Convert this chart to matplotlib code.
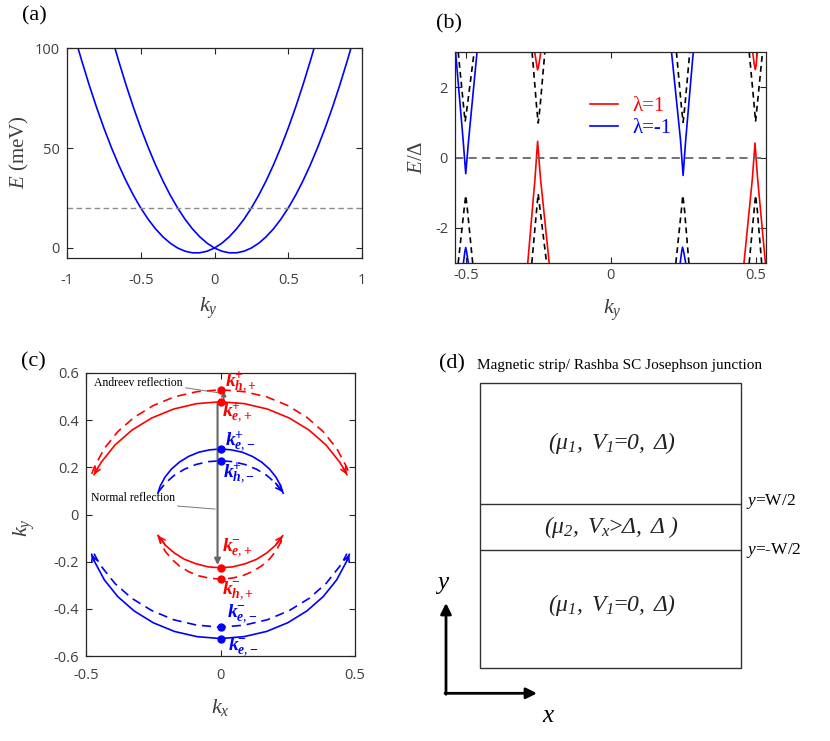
import matplotlib
matplotlib.use('Agg')
import matplotlib as mpl
import matplotlib.pyplot as plt
from matplotlib.patches import Rectangle

# ---------------- data ----------------
# (a) two Rashba bands, E (meV) vs k_y
ky_band1 = [-0.925, -0.90, -0.85, -0.80, -0.75, -0.70, -0.65, -0.60, -0.55, -0.50, -0.45, -0.40,
            -0.35, -0.30, -0.25, -0.20, -0.15, -0.10, -0.05, 0.0, 0.05, 0.10, 0.15, 0.20, 0.25,
            0.30, 0.35, 0.40, 0.45, 0.50, 0.55, 0.60, 0.65, 0.675]
E_band1 = [99.9, 93.6, 81.6, 70.4, 60.0, 50.4, 41.6, 33.6, 26.4, 20.0, 14.4, 9.6,
           5.6, 2.4, 0.0, -1.6, -2.4, -2.4, -1.6, 0.0, 2.4, 5.6, 9.6, 14.4, 20.0,
           26.4, 33.6, 41.6, 50.4, 60.0, 70.4, 81.6, 93.6, 99.9]
ky_band2 = [0.925, 0.90, 0.85, 0.80, 0.75, 0.70, 0.65, 0.60, 0.55, 0.50, 0.45, 0.40,
            0.35, 0.30, 0.25, 0.20, 0.15, 0.10, 0.05, 0.0, -0.05, -0.10, -0.15, -0.20, -0.25,
            -0.30, -0.35, -0.40, -0.45, -0.50, -0.55, -0.60, -0.65, -0.675]
E_band2 = E_band1
mu_a = 20

# (b) BdG spectrum E/Delta vs k_y
red_k = [[-0.287, -0.262, -0.253, -0.243, -0.213],
         [-0.263, -0.256, -0.253, -0.249, -0.242],
         [0.459, 0.488, 0.497, 0.506, 0.533],
         [0.489, 0.495, 0.498, 0.501, 0.505]]
red_E = [[-3.0, -0.6, 0.46, -0.6, -3.0],
         [3.0, 2.62, 2.49, 2.62, 3.0],
         [-3.0, -0.6, 0.41, -0.6, -3.0],
         [3.0, 2.62, 2.50, 2.62, 3.0]]
blue_k = [[-0.536, -0.510, -0.501, -0.491, -0.462],
          [-0.509, -0.504, -0.501, -0.498, -0.492],
          [0.209, 0.240, 0.249, 0.258, 0.284],
          [0.239, 0.244, 0.247, 0.251, 0.258]]
blue_E = [[3.0, 0.5, -0.46, 0.5, 3.0],
          [-3.0, -2.68, -2.56, -2.68, -3.0],
          [3.0, 0.5, -0.51, 0.5, 3.0],
          [-3.0, -2.68, -2.55, -2.68, -3.0]]
black_k = [[-0.527, -0.509, -0.503, -0.495, -0.472],
           [-0.527, -0.507, -0.501, -0.495, -0.477],
           [-0.272, -0.256, -0.251, -0.245, -0.228],
           [-0.273, -0.256, -0.251, -0.245, -0.222],
           [0.226, 0.243, 0.249, 0.255, 0.272],
           [0.224, 0.243, 0.248, 0.254, 0.269],
           [0.477, 0.494, 0.499, 0.505, 0.523],
           [0.477, 0.494, 0.499, 0.505, 0.520]]
black_E = [[3.0, 1.5, 1.02, 1.5, 3.0],
           [-3.0, -1.5, -1.08, -1.5, -3.0],
           [3.0, 1.4, 0.98, 1.4, 3.0],
           [-3.0, -1.45, -1.03, -1.45, -3.0],
           [3.0, 1.45, 1.0, 1.45, 3.0],
           [-3.0, -1.5, -1.08, -1.5, -3.0],
           [3.0, 1.5, 1.02, 1.5, 3.0],
           [-3.0, -1.5, -1.08, -1.5, -3.0]]
legend_labels = ['\u03bb=1', '\u03bb=-1']

# (c) Fermi contours (k_x, k_y)
red_sol_up_kx = [-0.470, -0.457, -0.443, -0.392, -0.329, -0.256, -0.175, -0.089, 0.0,
                 0.089, 0.175, 0.256, 0.329, 0.392, 0.443, 0.457, 0.470]
red_sol_up_ky = [0.169, 0.196, 0.222, 0.295, 0.358, 0.409, 0.447, 0.470, 0.478,
                 0.470, 0.447, 0.409, 0.358, 0.295, 0.222, 0.196, 0.169]
red_das_up_kx = [-0.479, -0.469, -0.432, -0.382, -0.321, -0.250, -0.171, -0.087, 0.0,
                 0.087, 0.171, 0.250, 0.321, 0.382, 0.432, 0.469, 0.479]
red_das_up_ky = [0.172, 0.201, 0.280, 0.351, 0.412, 0.462, 0.499, 0.521, 0.529,
                 0.521, 0.499, 0.462, 0.412, 0.351, 0.280, 0.201, 0.172]
blu_sol_up_kx = [-0.233, -0.224, -0.206, -0.182, -0.153, -0.119, -0.081, -0.041, 0.0,
                 0.041, 0.081, 0.119, 0.153, 0.182, 0.206, 0.224, 0.233]
blu_sol_up_ky = [0.090, 0.121, 0.159, 0.193, 0.222, 0.246, 0.264, 0.274, 0.278,
                 0.274, 0.264, 0.246, 0.222, 0.193, 0.159, 0.121, 0.090]
blu_das_up_kx = [-0.231, -0.205, -0.172, -0.134, -0.091, -0.046, 0.0,
                 0.046, 0.091, 0.134, 0.172, 0.205, 0.231]
blu_das_up_ky = [0.095, 0.133, 0.166, 0.192, 0.212, 0.224, 0.228,
                 0.224, 0.212, 0.192, 0.166, 0.133, 0.095]
red_sol_lo_kx = [-0.231, -0.205, -0.172, -0.134, -0.091, -0.046, 0.0,
                 0.046, 0.091, 0.134, 0.172, 0.205, 0.231]
red_sol_lo_ky = [-0.090, -0.130, -0.163, -0.190, -0.209, -0.222, -0.226,
                 -0.222, -0.209, -0.190, -0.163, -0.130, -0.090]
red_das_lo_kx = [-0.233, -0.224, -0.206, -0.182, -0.153, -0.119, -0.081, -0.041, 0.0,
                 0.041, 0.081, 0.119, 0.153, 0.182, 0.206, 0.224, 0.233]
red_das_lo_ky = [-0.086, -0.117, -0.155, -0.189, -0.218, -0.242, -0.260, -0.270, -0.274,
                 -0.270, -0.260, -0.242, -0.218, -0.189, -0.155, -0.117, -0.086]
blu_das_lo_kx = [-0.470, -0.457, -0.443, -0.392, -0.329, -0.256, -0.175, -0.089, 0.0,
                 0.089, 0.175, 0.256, 0.329, 0.392, 0.443, 0.457, 0.470]
blu_das_lo_ky = [-0.166, -0.194, -0.220, -0.293, -0.356, -0.407, -0.446, -0.469, -0.478,
                 -0.469, -0.446, -0.407, -0.356, -0.293, -0.220, -0.194, -0.166]
blu_sol_lo_kx = [-0.479, -0.469, -0.432, -0.382, -0.321, -0.250, -0.171, -0.087, 0.0,
                 0.087, 0.171, 0.250, 0.321, 0.382, 0.432, 0.469, 0.479]
blu_sol_lo_ky = [-0.169, -0.198, -0.277, -0.348, -0.409, -0.459, -0.496, -0.518, -0.526,
                 -0.518, -0.496, -0.459, -0.409, -0.348, -0.277, -0.198, -0.169]
red_dots_ky = [0.529, 0.477, -0.226, -0.274]
blue_dots_ky = [0.278, 0.228, -0.478, -0.526]
dot_labels = [('h', '+', '+'), ('e', '+', '+'), ('e', '-', '+'), ('h', '-', '+'),
              ('e', '+', '-'), ('h', '+', '-'), ('e', '-', '-'), ('e', '-', '-')]
dot_label_pos = [(0.017, 0.559), (0.005, 0.431), (0.017, 0.309), (0.010, 0.176),
                 (0.005, -0.145), (0.005, -0.326), (0.024, -0.424), (0.029, -0.563)]
dot_label_col = ['#ff0000', '#ff0000', '#0000ff', '#0000ff', '#ff0000', '#ff0000', '#0000ff', '#0000ff']

# (d) schematic texts (all italic, as in the reference)
region_texts = [r'$(\mu_{1},\ V_{1}\!\!=\!\!0,\ \Delta)$',
                r'$(\mu_{2},\ V_{x}\!\!>\!\!\Delta,\ \Delta\ )$',
                r'$(\mu_{1},\ V_{1}\!\!=\!\!0,\ \Delta)$']

# ---------------- style ----------------
mpl.rcParams['mathtext.fontset'] = 'custom'
mpl.rcParams['mathtext.rm'] = 'Liberation Serif:italic'
mpl.rcParams['mathtext.it'] = 'Liberation Serif:italic'
mpl.rcParams['mathtext.bf'] = 'Liberation Serif:bold'
bfit_ok = 'mathtext.bfit' in mpl.rcParams
if bfit_ok:
    mpl.rcParams['mathtext.bfit'] = 'Liberation Serif:italic:bold'
mpl.rcParams['font.family'] = ['Open Sans', 'DejaVu Sans']

W, H = 830, 741
fig = plt.figure(figsize=(8.3, 7.41), dpi=100)


def box(x0, y0, x1, y1):
    return [x0 / W, 1 - y1 / H, (x1 - x0) / W, (y1 - y0) / H]


def fp(x, y):
    return (x / W, 1 - y / H)


SER = ['Liberation Serif', 'DejaVu Serif']
AXC = '#262626'
TXC = '#404040'


def style(ax, xpad):
    for s in ax.spines.values():
        s.set_color(AXC)
        s.set_linewidth(0.9)
    ax.tick_params(direction='in', top=True, right=True, length=4, width=0.8,
                   color=AXC, labelcolor=TXC, labelsize=10.5)
    ax.tick_params(axis='x', pad=xpad)
    ax.tick_params(axis='y', pad=5)


def ftext(x, y, s, size, rot=0, color=TXC, ha='center', va='center', **kw):
    fig.text(*fp(x, y), s, fontsize=size, rotation=rot, color=color, ha=ha, va=va,
             family=SER, **kw)


# ---------------- (a) ----------------
ax_a = fig.add_axes(box(67, 48, 362, 258))
ax_a.plot(ky_band1, E_band1, color='#0000ff', lw=1.2)
ax_a.plot(ky_band2, E_band2, color='#0000ff', lw=1.2)
ax_a.axhline(mu_a, color='#8c8c8c', lw=1.0, dashes=(4, 2.5))
ax_a.set_xlim(-1, 1)
ax_a.set_ylim(-5, 100)
ax_a.set_xticks([-1, -0.5, 0, 0.5, 1])
ax_a.set_xticklabels(['-1', '-0.5', '0', '0.5', '1'])
ax_a.set_yticks([0, 50, 100])
ax_a.set_yticklabels(['0', '50', '100'])
style(ax_a, 11)
ftext(34, 16, '(a)', 16, color='black')
ftext(19, 152, r'$E$ (meV)', 15, rot=90)
ftext(208, 308, r'$k_y$', 16)

# ---------------- (b) ----------------
ax_b = fig.add_axes(box(455, 52, 766, 263))
for kk, ee in zip(black_k, black_E):
    ax_b.plot(kk, ee, color='black', lw=1.2, dashes=(3.5, 2.5))
hr = None
for kk, ee in zip(red_k, red_E):
    l, = ax_b.plot(kk, ee, color='#ff0000', lw=1.2)
    hr = hr or l
hb = None
for kk, ee in zip(blue_k, blue_E):
    l, = ax_b.plot(kk, ee, color='#0000ff', lw=1.2)
    hb = hb or l
ax_b.axhline(0, color='#666666', lw=1.3, dashes=(4.5, 3))
ax_b.set_xlim(-0.538, 0.535)
ax_b.set_ylim(-3, 3)
ax_b.set_xticks([-0.5, 0, 0.5])
ax_b.set_xticklabels(['-0.5', '0', '0.5'])
ax_b.set_yticks([-2, 0, 2])
ax_b.set_yticklabels(['-2', '0', '2'])
style(ax_b, 3.5)
leg = ax_b.legend([hr, hb], legend_labels, loc='upper left',
                  bbox_to_anchor=fp(580, 86), bbox_transform=fig.transFigure,
                  frameon=False, borderpad=0, handlelength=1.3, handletextpad=0.7,
                  labelspacing=0.12, prop={'family': SER, 'size': 15},
                  labelcolor='linecolor')
ftext(449, 24, '(b)', 16, color='black')
ftext(417, 157, '$E$/\u0394', 15, rot=90)
ftext(612, 310, r'$k_y$', 16)

# ---------------- (c) ----------------
ax_c = fig.add_axes(box(86, 373, 355, 656))
RED, BLU = '#ff0000', '#0000ff'
DSH = (5.5, 3.5)
ax_c.plot(red_sol_up_kx, red_sol_up_ky, color=RED, lw=1.2)
ax_c.plot(red_das_up_kx, red_das_up_ky, color=RED, lw=1.2, dashes=DSH)
ax_c.plot(blu_sol_up_kx, blu_sol_up_ky, color=BLU, lw=1.2)
ax_c.plot(blu_das_up_kx, blu_das_up_ky, color=BLU, lw=1.2, dashes=DSH)
ax_c.plot(red_sol_lo_kx, red_sol_lo_ky, color=RED, lw=1.2)
ax_c.plot(red_das_lo_kx, red_das_lo_ky, color=RED, lw=1.2, dashes=DSH)
ax_c.plot(blu_sol_lo_kx, blu_sol_lo_ky, color=BLU, lw=1.2)
ax_c.plot(blu_das_lo_kx, blu_das_lo_ky, color=BLU, lw=1.2, dashes=DSH)


def endarrow(kx, ky, color, idx_end, idx_prev):
    ax_c.annotate('', xy=(kx[idx_end], ky[idx_end]), xytext=(kx[idx_prev], ky[idx_prev]),
                  arrowprops=dict(arrowstyle='->', color=color, lw=1.2, shrinkA=0, shrinkB=0,
                                  mutation_scale=10))


endarrow(red_sol_up_kx, red_sol_up_ky, RED, 0, 1)
endarrow(red_sol_up_kx, red_sol_up_ky, RED, -1, -2)
endarrow(blu_das_up_kx, blu_das_up_ky, BLU, -1, -2)
endarrow(red_sol_lo_kx, red_sol_lo_ky, RED, 0, 1)
endarrow(red_sol_lo_kx, red_sol_lo_ky, RED, -1, -2)
endarrow(blu_sol_lo_kx, blu_sol_lo_ky, BLU, 0, 1)
endarrow(blu_sol_lo_kx, blu_sol_lo_ky, BLU, -1, -2)

# reflection arrows
GR = '#666666'
ax_c.annotate('', xy=(-0.011, red_dots_ky[2] + 0.012), xytext=(-0.011, red_dots_ky[1] - 0.005),
              arrowprops=dict(arrowstyle='-|>', color=GR, lw=1.5, shrinkA=0, shrinkB=0,
                              mutation_scale=9))
ax_c.annotate('', xy=(0.012, red_dots_ky[0] - 0.005), xytext=(0.012, red_dots_ky[1]),
              arrowprops=dict(arrowstyle='-|>', color=GR, lw=1.2, shrinkA=0, shrinkB=0,
                              mutation_scale=7))
ax_c.plot([0.0] * 4, red_dots_ky, 'o', color=RED, ms=5, zorder=5)
ax_c.plot([0.0] * 4, blue_dots_ky, 'o', color=BLU, ms=5, zorder=5)

ax_c.annotate('Andreev reflection', xy=(0.0, 0.515), xytext=(-0.47, 0.557),
              fontsize=8.5, family=SER, color='black', ha='left', va='center',
              arrowprops=dict(arrowstyle='-', color='#777777', lw=0.7, shrinkA=0, shrinkB=0,
                              relpos=(0.95, 0.2)))
ax_c.annotate('Normal reflection', xy=(-0.02, 0.023), xytext=(-0.483, 0.068),
              fontsize=8.5, family=SER, color='black', ha='left', va='center',
              arrowprops=dict(arrowstyle='-', color='#777777', lw=0.7, shrinkA=0, shrinkB=0,
                              relpos=(0.8, 0.0)))

for (a, b, c), (x, y), col in zip(dot_labels, dot_label_pos, dot_label_col):
    if bfit_ok:
        s = r'$\mathbfit{k}_{\mathbfit{%s},\mathbf{%s}}^{\mathbf{%s}}$' % (a, b, c)
    else:
        s = r'$k_{%s,%s}^{%s}$' % (a, b, c)
    ax_c.text(x, y, s, color=col, fontsize=14, ha='left', va='center', zorder=6)

ax_c.set_xlim(-0.5, 0.5)
ax_c.set_ylim(-0.6, 0.6)
ax_c.set_xticks([-0.5, 0, 0.5])
ax_c.set_xticklabels(['-0.5', '0', '0.5'])
ax_c.set_yticks([-0.6, -0.4, -0.2, 0, 0.2, 0.4, 0.6])
ax_c.set_yticklabels(['-0.6', '-0.4', '-0.2', '0', '0.2', '0.4', '0.6'])
style(ax_c, 8.5)
ftext(33, 362, '(c)', 16, color='black')
ftext(24, 528, r'$k_y$', 16, rot=90)
ftext(220, 707, r'$k_x$', 16)

# ---------------- (d) ----------------
ax_d = fig.add_axes(box(430, 340, 830, 741))
ax_d.set_xlim(430, 830)
ax_d.set_ylim(741, 340)
ax_d.axis('off')
ax_d.add_patch(Rectangle((480, 383.3), 261, 284.4, fill=False, lw=1.0, ec='#333333'))
ax_d.hlines([504.3, 550.3], 480, 741, color='#333333', lw=1.0)
ax_d.text(452, 364, '(d)', fontsize=16, family=SER, ha='center', va='center')
ax_d.text(476.7, 365, 'Magnetic strip/ Rashba SC Josephson junction', fontsize=11,
          family=SER, ha='left', va='center')
for s, y in zip(region_texts, [443, 526.7, 605]):
    ax_d.text(611.7, y, s, fontsize=17, ha='center', va='center', color='#222222')
ax_d.text(746, 501.7, r'$y$=W/2', fontsize=12.5, family=SER, ha='left', va='center')
ax_d.text(746, 550, r'$y$=-W/2', fontsize=12.5, family=SER, ha='left', va='center')
ax_d.annotate('', xy=(446, 603), xytext=(446, 694.3),
              arrowprops=dict(arrowstyle='-|>', color='black', lw=2, shrinkA=0, shrinkB=0,
                              mutation_scale=16))
ax_d.annotate('', xy=(537, 693.3), xytext=(445, 693.3),
              arrowprops=dict(arrowstyle='-|>', color='black', lw=2, shrinkA=0, shrinkB=0,
                              mutation_scale=16))
ax_d.text(443, 584, r'$y$', fontsize=18, ha='center', va='center')
ax_d.text(549, 716, r'$x$', fontsize=18, ha='center', va='center')

fig.savefig('out.png', dpi=100)
